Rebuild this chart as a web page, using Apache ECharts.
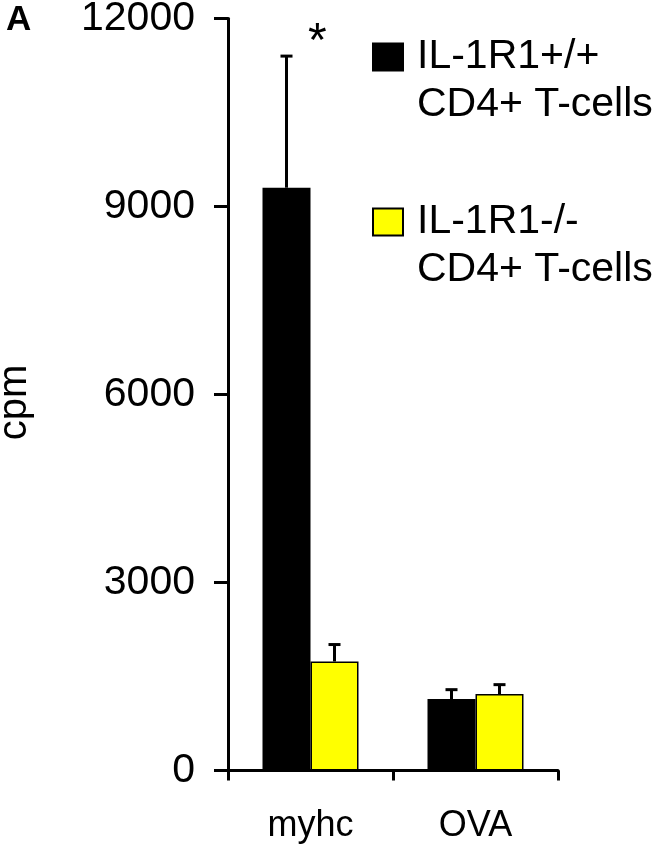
<!DOCTYPE html>
<html>
<head>
<meta charset="utf-8">
<script src="https://cdn.jsdelivr.net/npm/echarts@6/dist/echarts.min.js"></script>
<style>
  html, body { margin: 0; padding: 0; background: #fff; }
  #chart { width: 662px; height: 852px; }
</style>
</head>
<body>
<div id="chart"></div>
<script>
// values (cpm)
const categories = ["myhc", "OVA"];
const wildName = "IL-1R1+/+";
const koName = "IL-1R1-/-";
const wildMean = [9300, 1140];
const wildUpper = [11400, 1290];
const koMean = [1740, 1220];
const koUpper = [2010, 1370];

const FONT = "'Liberation Sans', Arial, Helvetica, sans-serif";
const BAR_W = 48;

const chart = echarts.init(document.getElementById("chart"));

// one-sided error bar (upper whisker only)
function errorBar(offset) {
  return function (params, api) {
    const ci = api.value(0);
    const base = api.coord([ci, api.value(1)]);
    const top = api.coord([ci, api.value(2)]);
    const x = base[0] + offset;
    const style = { stroke: "#000", lineWidth: 3 };
    return {
      type: "group",
      children: [
        { type: "line", shape: { x1: x, y1: base[1], x2: x, y2: top[1] }, style },
        { type: "line", shape: { x1: x - 6, y1: top[1], x2: x + 6, y2: top[1] }, style },
      ],
    };
  };
}

chart.setOption({
  animation: false,
  backgroundColor: "#fff",
  textStyle: { fontFamily: FONT, color: "#000" },
  graphic: [
    {
      type: "text",
      left: 6,
      top: 3,
      style: { text: "A", fontFamily: FONT, fontWeight: "bold", fontSize: 35, fill: "#000" },
    },
    {
      type: "text",
      left: 308,
      top: 19,
      style: { text: "*", fontFamily: FONT, fontSize: 48, fill: "#000" },
    },
  ],
  legend: {
    data: [wildName, koName],
    orient: "vertical",
    left: 372,
    top: -15,
    padding: 0,
    itemWidth: 30,
    itemHeight: 27,
    itemGap: 21,
    icon: "rect",
    // blank first line keeps the name level with the swatch
    formatter: (name) => "\n" + name + "\nCD4+ T-cells",
    textStyle: {
      fontFamily: FONT,
      fontSize: 41,
      lineHeight: 48,
      color: "#000",
      padding: [0, 0, 0, 9],
    },
  },
  grid: { left: 228, right: 104, top: 18.5, bottom: 81.5, containLabel: false, outerBoundsMode: "none" },
  xAxis: {
    type: "category",
    data: categories,
    boundaryGap: true,
    axisLine: { lineStyle: { color: "#000", width: 3 } },
    axisTick: { show: true, inside: false, length: 10, lineStyle: { color: "#000", width: 3 } },
    axisLabel: { fontFamily: FONT, fontSize: 36, color: "#000", margin: 38 },
  },
  yAxis: {
    type: "value",
    min: 0,
    max: 12000,
    interval: 3000,
    name: "cpm",
    nameLocation: "middle",
    nameRotate: 90,
    nameGap: 193,
    nameTextStyle: { fontFamily: FONT, fontSize: 40, color: "#000", padding: [0, 16, 0, 0] },
    splitLine: { show: false },
    axisLine: { show: true, lineStyle: { color: "#000", width: 3 } },
    axisTick: { show: true, inside: false, length: 14, lineStyle: { color: "#000", width: 3 } },
    axisLabel: {
      fontFamily: FONT,
      fontSize: 41,
      color: "#000",
      margin: 33,
      formatter: (v) => String(v),
    },
  },
  series: [
    {
      name: wildName,
      type: "bar",
      barWidth: BAR_W,
      barGap: "0%",
      data: wildMean,
      itemStyle: { color: "#000", borderColor: "#000", borderWidth: 1.5 },
    },
    {
      name: koName,
      type: "bar",
      barWidth: BAR_W,
      barGap: "0%",
      data: koMean,
      itemStyle: { color: "#ffff00", borderColor: "#000", borderWidth: 1.5 },
    },
    {
      name: "err-wild",
      type: "custom",
      renderItem: errorBar(-BAR_W / 2),
      data: categories.map((c, i) => [i, wildMean[i], wildUpper[i]]),
      z: 5,
    },
    {
      name: "err-ko",
      type: "custom",
      renderItem: errorBar(BAR_W / 2),
      data: categories.map((c, i) => [i, koMean[i], koUpper[i]]),
      z: 5,
    },
  ],
});
</script>
</body>
</html>
